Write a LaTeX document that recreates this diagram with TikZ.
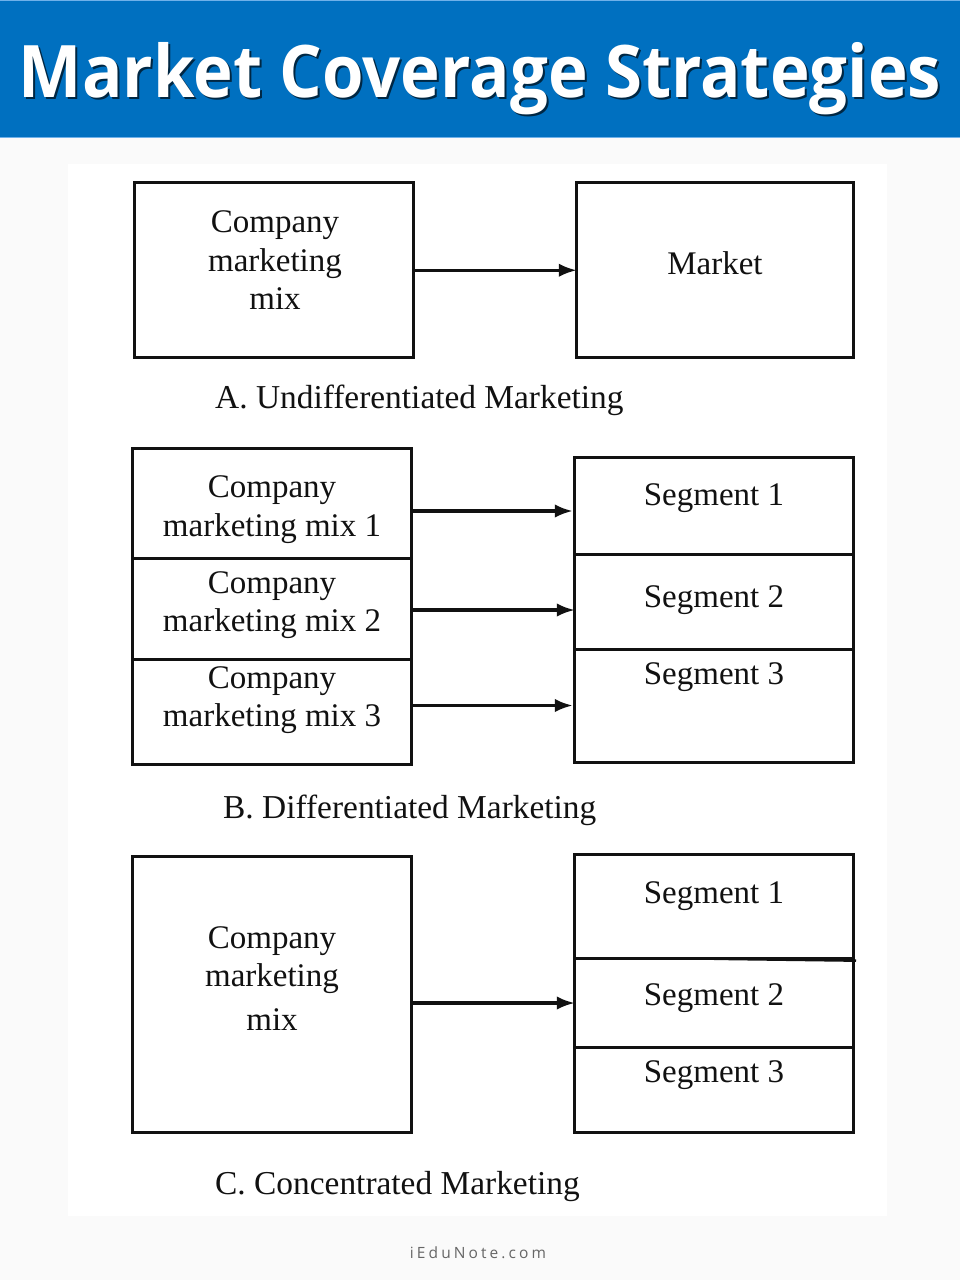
\documentclass[tikz,border=0pt]{standalone}
\usepackage{fontspec}
\setmainfont{Liberation Serif}
\newfontfamily\titlefont{Open Sans}[BoldFont=* Bold]
\newfontfamily\notefont{Open Sans}
\usetikzlibrary{arrows.meta}
\definecolor{banner}{HTML}{0070C0}
\definecolor{bannerline}{HTML}{6FB1EA}
\definecolor{pagebg}{HTML}{FAFAFA}
\definecolor{inkline}{HTML}{111111}
\tikzset{
  cell/.style={draw=inkline,line width=2.8pt,inner sep=0pt,outer sep=0pt,rectangle},
  lbl/.style={font=\fontsize{33}{38.5}\selectfont,text=inkline,inner sep=0pt,align=center,text depth=0pt},
  flow/.style={draw=inkline,line width=3.1pt,-{Latex[length=18pt,width=13.5pt]}},
}
\newcommand{\cellbox}[5]{% name,x0,y0,x1,y1
  \node[cell,minimum width=#4pt-#2pt,minimum height=#5pt-#3pt,anchor=north west] (#1) at (#2-0.25,#3-0.25) {};
}
\newcommand{\titletext}{\scalebox{1}[1.08]{\resizebox{922pt}{!}{\titlefont\bfseries\fontsize{70}{80}\selectfont Market Coverage Strategies}}}
\begin{document}
\begin{tikzpicture}[x=1pt,y=-1pt]
\useasboundingbox (0,0) rectangle (960,1280);
\fill[pagebg] (0,0) rectangle (960,1280);
\fill[white] (68,164) rectangle (887,1216);
\fill[banner] (0,0) rectangle (960,137);
\fill[bannerline] (0,0) rectangle (960,1.2);
\fill[bannerline] (0,136.5) rectangle (960,138);
% title
\node[text=black!65!banner,anchor=base,inner sep=0pt] (titleshadow) at (482,99) {\titletext};
\node[text=white,anchor=base,inner sep=0pt] (title) at (480,97) {\titletext};
% A
\cellbox{amix}{135}{183}{414}{358}
\cellbox{amarket}{577}{183}{854}{358}
\node[lbl,anchor=base] (amixt1) at (275,232) {Company};
\node[lbl,anchor=base] (amixt2) at (275,271) {marketing};
\node[lbl,anchor=base] (amixt3) at (275,309) {mix};
\node[lbl,anchor=base] (amarkett) at (715,274) {Market};
\draw[flow] (amix.east) -- (amarket.west);
\node[lbl,anchor=base west,font=\fontsize{33.4}{38}\selectfont] (acap) at (215,408) {A. Undifferentiated Marketing};
% B
\cellbox{bm1}{133}{449}{412}{559}
\cellbox{bm2}{133}{559}{412}{660}
\cellbox{bm3}{133}{660}{412}{765}
\cellbox{bs1}{575}{458}{854}{555}
\cellbox{bs2}{575}{555}{854}{650}
\cellbox{bs3}{575}{650}{854}{763}
\node[lbl,anchor=base] (bm1t1) at (272,497) {Company};
\node[lbl,anchor=base] (bm1t2) at (272,536) {marketing mix 1};
\node[lbl,anchor=base] (bm2t1) at (272,593) {Company};
\node[lbl,anchor=base] (bm2t2) at (272,631) {marketing mix 2};
\node[lbl,anchor=base] (bm3t1) at (272,688) {Company};
\node[lbl,anchor=base] (bm3t2) at (272,726) {marketing mix 3};
\node[lbl,anchor=base] (bs1t) at (714,505) {Segment 1};
\node[lbl,anchor=base] (bs2t) at (714,607) {Segment 2};
\node[lbl,anchor=base] (bs3t) at (714,684) {Segment 3};
\coordinate (by1) at (0,511);
\coordinate (by2) at (0,610);
\coordinate (by3) at (0,705.5);
\draw[flow,shorten >=2pt] (bm1.east |- by1) -- (bs1.west |- by1);
\draw[flow] (bm2.east |- by2) -- (bs2.west |- by2);
\draw[flow,shorten >=2pt] (bm3.east |- by3) -- (bs3.west |- by3);
\node[lbl,anchor=base west,font=\fontsize{33.4}{38}\selectfont] (bcap) at (223,818) {B. Differentiated Marketing};
% C
\cellbox{cmix}{133}{857}{412}{1133}
\cellbox{cs1}{575}{855}{854}{959}
\cellbox{cs2}{575}{959}{854}{1048}
\cellbox{cs3}{575}{1048}{854}{1133}
\node[lbl,anchor=base] (cmixt1) at (272,948) {Company};
\node[lbl,anchor=base] (cmixt2) at (272,986) {marketing};
\node[lbl,anchor=base] (cmixt3) at (272,1030) {mix};
\node[lbl,anchor=base] (cs1t) at (714,903) {Segment 1};
\node[lbl,anchor=base] (cs2t) at (714,1005) {Segment 2};
\node[lbl,anchor=base] (cs3t) at (714,1082) {Segment 3};
\coordinate (cy) at (0,1003);
\coordinate (cstub) at (856,960.6);
\draw[draw=inkline,line width=2.6pt] (cs1.south) -- (cstub);
\draw[flow] (cmix.east |- cy) -- (cs2.west |- cy);
\node[lbl,anchor=base west,font=\fontsize{33.4}{38}\selectfont] (ccap) at (215,1194) {C. Concentrated Marketing};
% footer
\node[anchor=base,inner sep=0pt,text=black!60] (foot) at (478,1258) {\notefont\fontsize{15.5}{18}\selectfont\addfontfeature{LetterSpace=20}iEduNote.com};
\end{tikzpicture}
\end{document}
